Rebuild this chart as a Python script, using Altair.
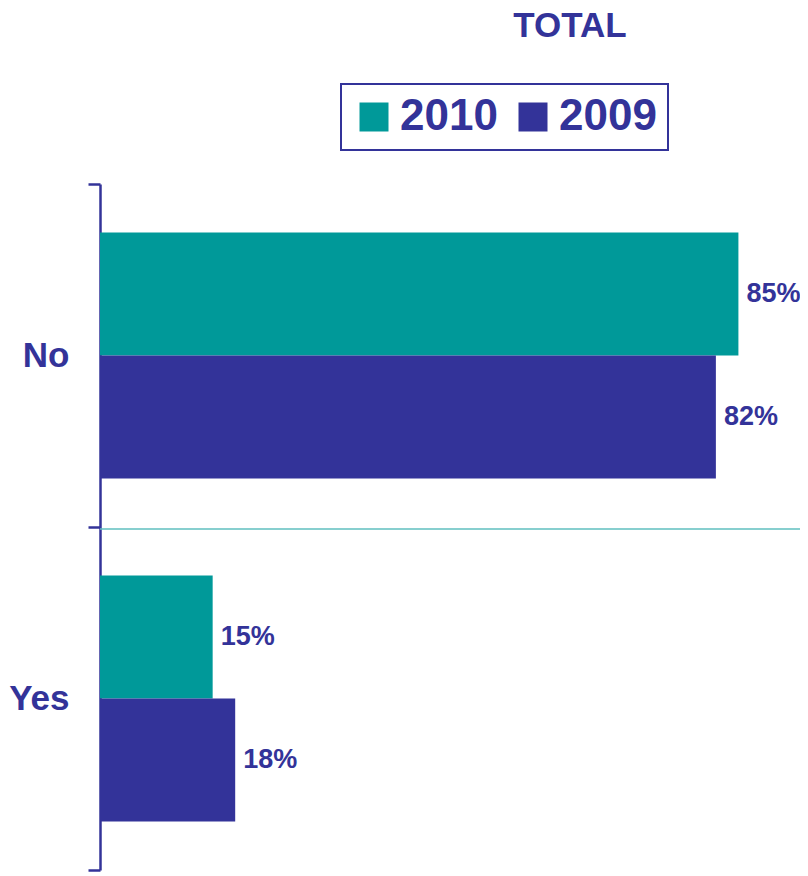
import altair as alt
import pandas as pd

answers = ["No", "No", "Yes", "Yes"]
years = ["2010", "2009", "2010", "2009"]
values = [85, 82, 15, 18]
labels = ["85%", "82%", "15%", "18%"]

NAVY = "#333399"
TEAL = "#009999"
FONT = "Liberation Sans"

df = pd.DataFrame({"answer": answers, "year": years, "value": values, "label": labels})

yenc = alt.Y(
    "answer:N", sort=["No", "Yes"],
    scale=alt.Scale(paddingInner=0, paddingOuter=0),
    axis=alt.Axis(title=None, tickBand="extent", domainColor=NAVY, domainWidth=2.5,
                  tickColor=NAVY, tickWidth=2.5, tickSize=12, labelFontSize=35,
                  labelFont=FONT, labelFontWeight="bold", labelColor=NAVY,
                  labelPadding=19, grid=False),
)
yoff = alt.YOffset("year:N", sort=["2010", "2009"], scale=alt.Scale(paddingOuter=0.394))
xenc = alt.X("value:Q", scale=alt.Scale(domain=[0, 93.2], nice=False), axis=None)

bars = alt.Chart(df).mark_bar().encode(
    y=yenc, yOffset=yoff, x=xenc,
    color=alt.Color(
        "year:N", sort=["2010", "2009"],
        scale=alt.Scale(domain=["2010", "2009"], range=[TEAL, NAVY]),
        legend=alt.Legend(title=None, orient="none", legendX=241, legendY=-100,
                          direction="horizontal", symbolType="square", symbolSize=841,
                          symbolStrokeWidth=0, labelFontSize=44, labelFont=FONT,
                          labelFontWeight="bold", labelColor=NAVY, padding=11,
                          strokeColor=NAVY, columnPadding=13, labelOffset=4),
    ),
)

text = alt.Chart(df).mark_text(
    align="left", baseline="middle", dx=8, fontSize=27, fontWeight="bold",
    color=NAVY, font=FONT,
).encode(y=yenc, yOffset=yoff, x=xenc, text="label:N")

sep = alt.Chart(pd.DataFrame({"a": [0]})).mark_rule(color="#5fbfbf", strokeWidth=1.5).encode(
    y=alt.value(345), x=alt.value(0), x2=alt.value(708)
)

chart = alt.layer(bars, text, sep).properties(
    width=700, height=686,
    autosize=alt.AutoSizeParams(type="none"),
    padding={"left": 92, "top": 176, "right": 0, "bottom": 2},
    title=alt.TitleParams("TOTAL", fontSize=35, font=FONT, fontWeight="bold", color=NAVY,
                          anchor="middle", dx=120, offset=39),
).configure_view(stroke=None).configure_legend(strokeWidth=2)

chart.save("out.html", embed_options={"renderer": "svg", "actions": False})
